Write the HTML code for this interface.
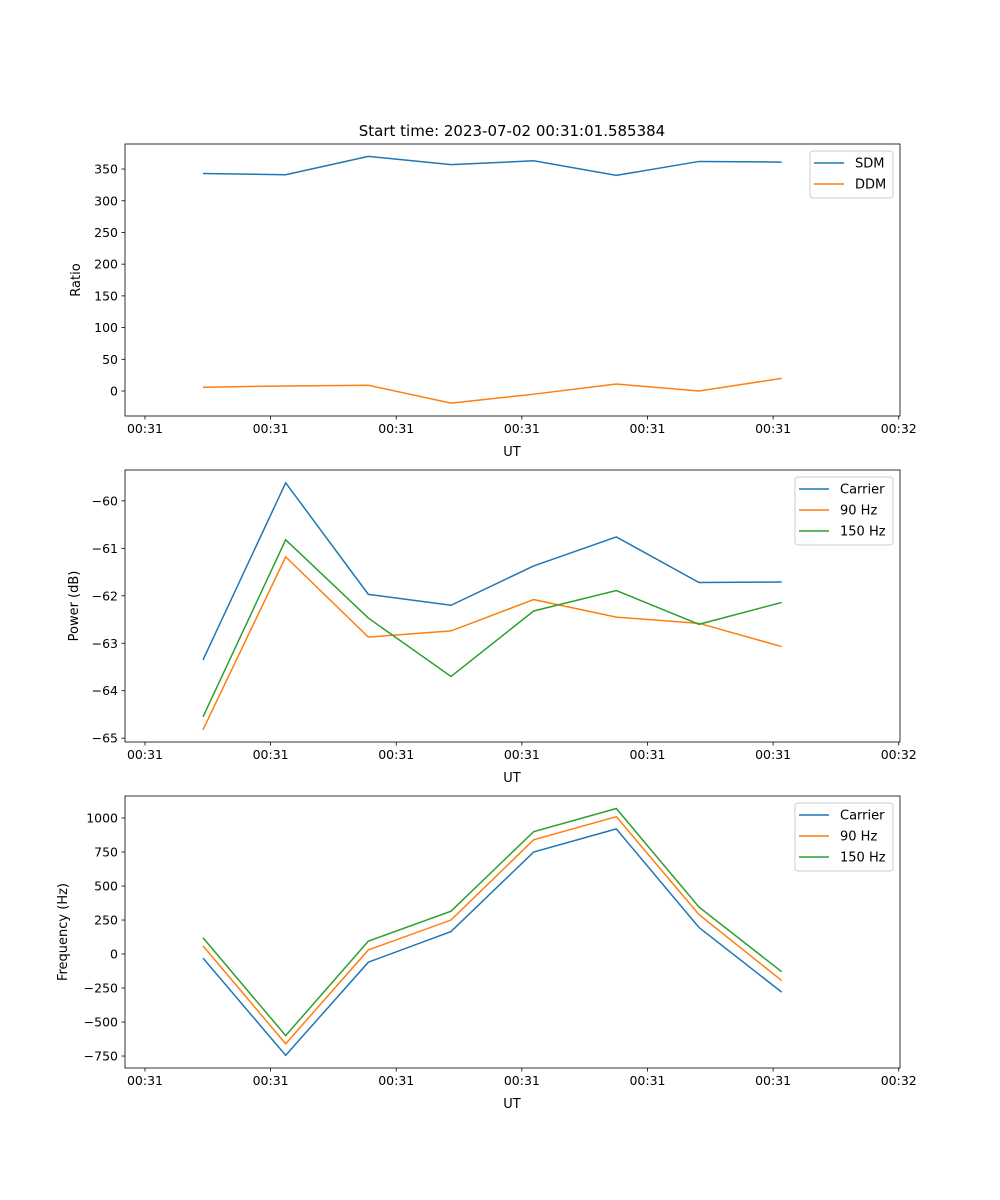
<!DOCTYPE html>
<html><head><meta charset="utf-8"><style>
body{margin:0;background:#fff}
svg{display:block;font-family:"DejaVu Sans","Liberation Sans",sans-serif}
</style></head><body>
<svg id="fig" width="1000" height="1200"></svg>
<script>
const xTickVals=[0,1,2,3,4,5,6];
const xTickLabels=["00:31","00:31","00:31","00:31","00:31","00:31","00:32"];
const xData=[0.462,1.12,1.778,2.436,3.094,3.752,4.41,5.068];
const sdm=[343,341,370,357,363,340,362,361];
const ddm=[6,8,9,-19,-5,11,0,20];
const ratioTicks=[0,50,100,150,200,250,300,350];
const powCarrier=[-63.35,-59.62,-61.97,-62.2,-61.37,-60.76,-61.72,-61.71];
const pow90=[-64.82,-61.18,-62.87,-62.74,-62.08,-62.45,-62.58,-63.07];
const pow150=[-64.55,-60.82,-62.47,-63.70,-62.32,-61.89,-62.60,-62.14];
const powTicks=[-65,-64,-63,-62,-61,-60];
const freqCarrier=[-30,-745,-60,165,750,920,195,-280];
const freq90=[60,-660,30,250,840,1010,290,-195];
const freq150=[120,-600,95,315,900,1070,345,-130];
const freqTicks=[-750,-500,-250,0,250,500,750,1000];

const NS="http://www.w3.org/2000/svg";
const svg=document.getElementById('fig');
function mk(tag,attrs,parent){const e=document.createElementNS(NS,tag);for(const k in attrs)e.setAttribute(k,attrs[k]);(parent||svg).appendChild(e);return e;}
const X0=125,X1=900,xmin=-0.159,xmax=6.01;
const xs=v=>X0+(v-xmin)/(xmax-xmin)*(X1-X0);

function panel(name,top,bot,ymin,ymax,yticks,ylabel,yx,series,legend){
  const g=mk('g',{});
  
  
  const ys=v=>bot-(v-ymin)/(ymax-ymin)*(bot-top);
  series.forEach(s=>{
    const p=mk('polyline',{points:s.vals.map((v,i)=>xs(xData[i])+','+ys(v)).join(' '),fill:'none',stroke:s.color,'stroke-width':1.5},g);
    
    
  });
  const fr=mk('rect',{x:X0,y:top,width:X1-X0,height:bot-top,fill:'none',stroke:'#000','stroke-width':0.8},g);
  
  
  xTickVals.forEach((v,i)=>{
    const x=xs(v);
    mk('line',{x1:x,x2:x,y1:bot,y2:bot+3.5,stroke:'#000','stroke-width':0.8},g);
    const t=mk('text',{x:x,y:bot+17,'font-size':12.5,'text-anchor':'middle'},g);
    t.textContent=xTickLabels[i];
    
    
  });
  const xl=mk('text',{x:512,y:bot+40,'font-size':13,'text-anchor':'middle'},g);
  xl.textContent='UT';
  
  
  yticks.forEach(v=>{
    const y=ys(v);
    mk('line',{x1:X0-3.5,x2:X0,y1:y,y2:y,stroke:'#000','stroke-width':0.8},g);
    const t=mk('text',{x:X0-7,y:y+4.5,'font-size':12.5,'text-anchor':'end'},g);
    t.textContent=String(v).replace('-','\u2212');
    
    
  });
  const yl=mk('text',{x:yx,y:(top+bot)/2,'font-size':13,'text-anchor':'middle',transform:`rotate(-90 ${yx} ${(top+bot)/2})`},g);
  yl.textContent=ylabel;
  
  
  const lg=mk('g',{},g);
  
  
  const lh=series.length*21+5;
  mk('rect',{x:legend.x,y:top+7,width:893-legend.x,height:lh,rx:3,fill:'#fff',stroke:'#ccc','stroke-width':1},lg);
  series.forEach((s,i)=>{
    const y=top+19+i*21;
    mk('line',{x1:legend.x+4,x2:legend.x+34,y1:y,y2:y,stroke:s.color,'stroke-width':1.5},lg);
    const t=mk('text',{x:legend.x+45,y:y+4.5,'font-size':13},lg);
    t.textContent=s.label;
    
    
  });
}
const title=mk('text',{x:512,y:136,'font-size':15,'text-anchor':'middle'});
title.textContent='Start time: 2023-07-02 00:31:01.585384';



panel('ratio',144,416,-39.4,389.5,ratioTicks,'Ratio',80,[
 {key:'sdm',label:'SDM',vals:sdm,color:'#1f77b4'},
 {key:'ddm',label:'DDM',vals:ddm,color:'#ff7f0e'}],{x:810});
panel('power',470,742,-65.08,-59.35,powTicks,'Power (dB)',78,[
 {key:'carrier',label:'Carrier',vals:powCarrier,color:'#1f77b4'},
 {key:'90hz',label:'90 Hz',vals:pow90,color:'#ff7f0e'},
 {key:'150hz',label:'150 Hz',vals:pow150,color:'#2ca02c'}],{x:795});
panel('frequency',796,1068,-838,1162,freqTicks,'Frequency (Hz)',67,[
 {key:'carrier',label:'Carrier',vals:freqCarrier,color:'#1f77b4'},
 {key:'90hz',label:'90 Hz',vals:freq90,color:'#ff7f0e'},
 {key:'150hz',label:'150 Hz',vals:freq150,color:'#2ca02c'}],{x:795});
</script>
</body></html>
